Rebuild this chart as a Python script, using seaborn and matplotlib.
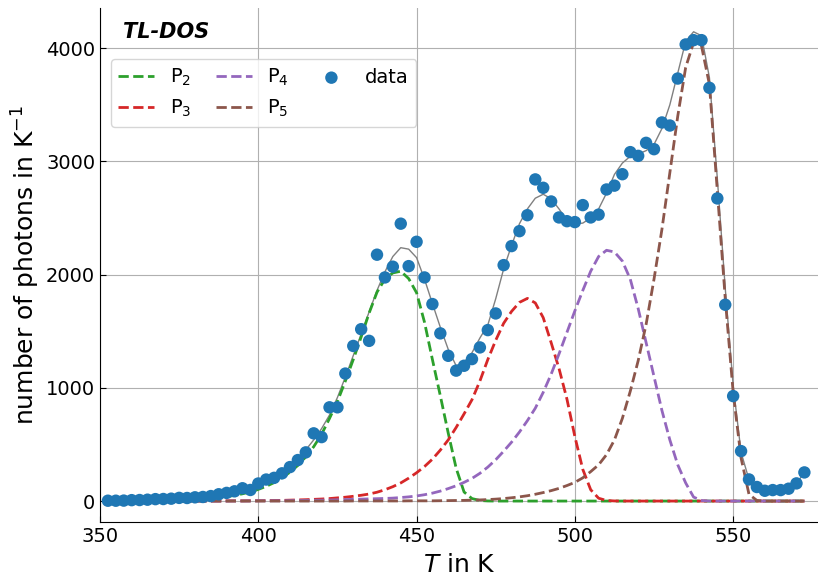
import matplotlib
matplotlib.use("Agg")
import matplotlib.pyplot as plt
import seaborn as sns

# Temperature grid (K) shared by data and fitted curves
temperature = [
    352.5, 355.0, 357.5, 360.0, 362.5, 365.0, 367.5, 370.0, 372.5, 375.0,
    377.5, 380.0, 382.5, 385.0, 387.5, 390.0, 392.5, 395.0, 397.5, 400.0,
    402.5, 405.0, 407.5, 410.0, 412.5, 415.0, 417.5, 420.0, 422.5, 425.0,
    427.5, 430.0, 432.5, 435.0, 437.5, 440.0, 442.5, 445.0, 447.5, 450.0,
    452.5, 455.0, 457.5, 460.0, 462.5, 465.0, 467.5, 470.0, 472.5, 475.0,
    477.5, 480.0, 482.5, 485.0, 487.5, 490.0, 492.5, 495.0, 497.5, 500.0,
    502.5, 505.0, 507.5, 510.0, 512.5, 515.0, 517.5, 520.0, 522.5, 525.0,
    527.5, 530.0, 532.5, 535.0, 537.5, 540.0, 542.5, 545.0, 547.5, 550.0,
    552.5, 555.0, 557.5, 560.0, 562.5, 565.0, 567.5, 570.0, 572.5,
]

# measured photons per K
data = [
    3, 3, 4, 8, 9, 12, 17, 18, 21, 28, 27, 33, 36, 44, 60, 72, 86, 113, 98, 155,
    190, 205, 245, 300, 362, 430, 598, 565, 828, 828, 1126, 1370, 1518, 1415, 2176, 1975, 2070, 2450, 2075, 2290,
    1975, 1740, 1481, 1283, 1152, 1195, 1254, 1357, 1510, 1657, 2084, 2252, 2384, 2525, 2841, 2767, 2646, 2505, 2472, 2464,
    2614, 2505, 2530, 2752, 2786, 2887, 3082, 3049, 3164, 3108, 3344, 3317, 3732, 4033, 4071, 4071, 3650, 2673, 1734, 927,
    441, 191, 124, 91, 97, 97, 109, 156, 253,
]

# total fit (grey line)
fit_total = [
    3, 3, 4, 6, 8, 10, 13, 16, 19, 23, 27, 32, 38, 46, 56, 68, 83, 100, 122, 148,
    180, 218, 262, 315, 378, 452, 540, 640, 760, 915, 1095, 1285, 1475, 1670, 1860, 2025, 2160, 2238, 2225, 2150,
    1960, 1745, 1535, 1340, 1195, 1225, 1310, 1440, 1555, 1787, 2050, 2258, 2450, 2580, 2675, 2710, 2670, 2580, 2480, 2448,
    2455, 2500, 2580, 2720, 2885, 2985, 3045, 3065, 3095, 3150, 3290, 3500, 3780, 4060, 4145, 4110, 3740, 2850, 1880, 1020,
    430, 190, 120, 95, 95, 97, 110, 155, 253,
]

# glow-peak components
p2 = [
    0, 1, 1, 1, 2, 2, 3, 4, 6, 8, 10, 14, 18, 23, 30, 39, 50, 64, 81, 103,
    130, 163, 205, 255, 315, 390, 480, 590, 730, 880, 1060, 1250, 1450, 1660, 1845, 1960, 2015, 2030, 1965, 1840,
    1580, 1250, 930, 600, 290, 80, 22, 5, 1, 0, 0, 0, 0, 0, 0, 0, 0, 0, 0, 0,
    0, 0, 0, 0, 0, 0, 0, 0, 0, 0, 0, 0, 0, 0, 0, 0, 0, 0, 0, 0,
    0, 0, 0, 0, 0, 0, 0, 0, 0,
]
p3 = [
    0, 0, 0, 0, 0, 0, 0, 0, 0, 0, 0, 1, 1, 1, 1, 2, 2, 2, 3, 3,
    4, 5, 6, 8, 10, 12, 15, 18, 22, 28, 34, 42, 51, 62, 78, 100, 127, 160, 202, 250,
    305, 370, 450, 540, 650, 770, 895, 1060, 1250, 1420, 1570, 1675, 1755, 1790, 1750, 1620, 1400, 1170, 900, 570,
    280, 100, 25, 5, 1, 0, 0, 0, 0, 0, 0, 0, 0, 0, 0, 0, 0, 0, 0, 0,
    0, 0, 0, 0, 0, 0, 0, 0, 0,
]
p4 = [
    0, 0, 0, 0, 0, 0, 0, 0, 0, 0, 0, 0, 0, 0, 0, 0, 1, 1, 1, 2,
    2, 3, 3, 4, 5, 6, 7, 8, 9, 11, 13, 15, 17, 19, 21, 23, 26, 31, 37, 45,
    56, 70, 88, 110, 135, 165, 200, 245, 300, 365, 440, 520, 610, 710, 820, 960, 1120, 1300, 1490, 1680,
    1860, 2030, 2160, 2215, 2200, 2120, 1960, 1700, 1400, 1100, 800, 540, 320, 160, 35, 5, 0, 0, 0, 0,
    0, 0, 0, 0, 0, 0, 0, 0, 0,
]
p5 = [
    0, 0, 0, 0, 0, 0, 0, 0, 0, 0, 0, 0, 0, 0, 0, 0, 0, 0, 0, 0,
    0, 0, 0, 0, 0, 0, 0, 0, 0, 0, 0, 1, 1, 1, 1, 1, 1, 1, 2, 2,
    2, 2, 3, 4, 5, 6, 8, 10, 13, 17, 22, 29, 37, 47, 60, 75, 92, 112, 137, 165,
    205, 260, 320, 410, 540, 730, 970, 1240, 1560, 1960, 2400, 2900, 3400, 3830, 4050, 4020, 3680, 2740, 1790, 960,
    380, 60, 5, 0, 0, 0, 0, 0, 0,
]

component_labels = ["P$_2$", "P$_3$", "P$_4$", "P$_5$"]
component_colors = ["#2ca02c", "#d62728", "#9467bd", "#8c564b"]

plt.rcParams["font.family"] = ["DejaVu Sans"]

fig = plt.figure(figsize=(8.18, 5.83), dpi=100)
ax = fig.add_axes([100 / 818, 61 / 583, 718 / 818, 514 / 583])
ax.set_axisbelow(True)
ax.grid(True, color="#b0b0b0", linewidth=0.8)

sns.lineplot(x=temperature, y=fit_total, color="gray", linewidth=1.0, ax=ax, zorder=2)
for vals, lab, col in zip([p2, p3, p4, p5], component_labels, component_colors):
    sns.lineplot(x=temperature, y=vals, color=col, linewidth=2.0, linestyle="--",
                 label=lab, ax=ax, zorder=3)
sns.scatterplot(x=temperature, y=data, s=80, color="#1f77b4", edgecolor="none",
                label="data", ax=ax, zorder=4)

ax.set_xlim(350, 576.8)
ax.set_ylim(-185, 4355)
ax.set_xticks([350, 400, 450, 500, 550])
ax.set_yticks([0, 1000, 2000, 3000, 4000])
ax.tick_params(direction="in", length=4.5, labelsize=14)
ax.spines["top"].set_visible(False)
ax.spines["right"].set_visible(False)

ax.set_xlabel("$T$ in K", fontsize=18, labelpad=5)
ax.set_ylabel("number of photons in K$^{-1}$", fontsize=18, labelpad=3)

ax.text(0.032, 0.953, "TL-DOS", transform=ax.transAxes, fontsize=15,
        fontweight="bold", fontstyle="italic", ha="left", va="center")

handles, labels = ax.get_legend_handles_labels()
ax.legend(handles, labels, ncol=3, loc="upper left", bbox_to_anchor=(0.0149, 0.9008),
          borderaxespad=0, fontsize=14, handlelength=1.85, columnspacing=1.25)

fig.savefig("out.png", dpi=100)
